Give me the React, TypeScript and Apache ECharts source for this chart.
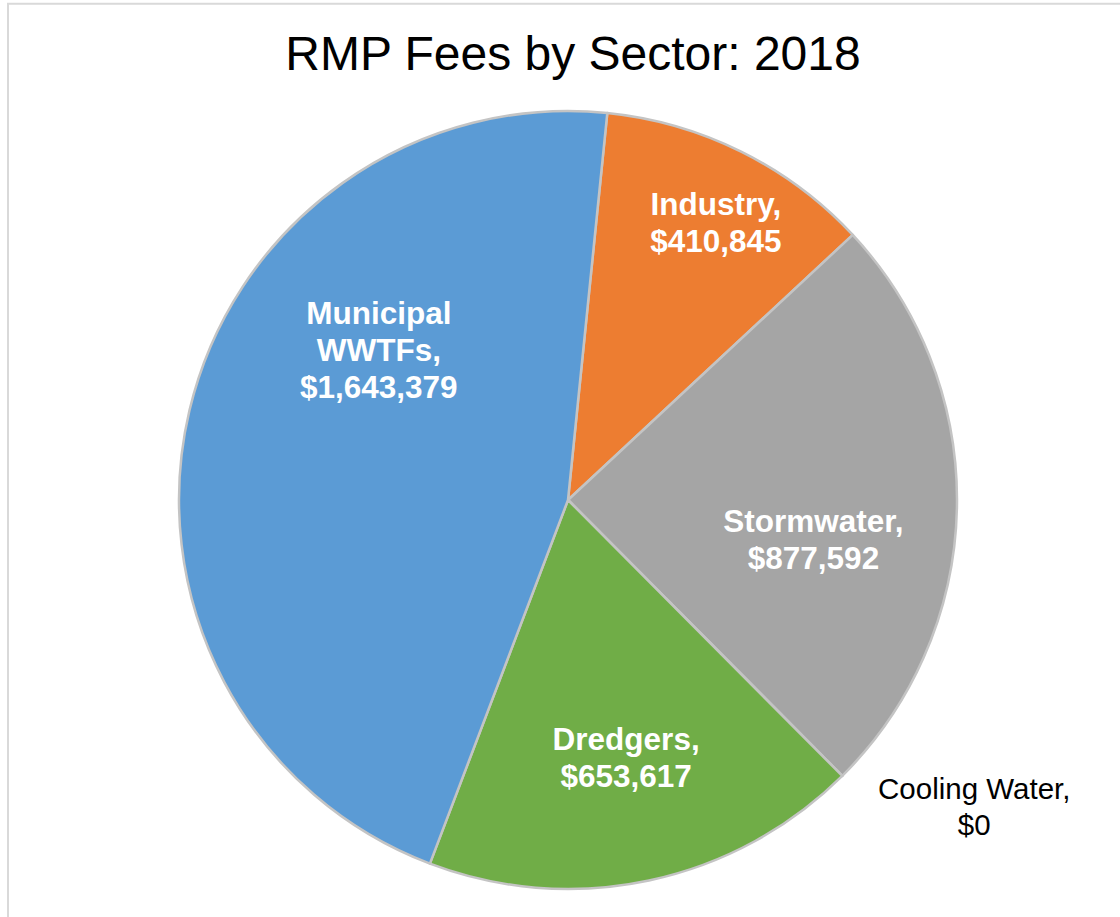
import React, { useEffect, useRef } from "react";
import * as echarts from "echarts";

const TITLE = "RMP Fees by Sector: 2018";
const categories = ["Industry", "Stormwater", "Cooling Water", "Dredgers", "Municipal WWTFs"];
const fees = [410845, 877592, 0, 653617, 1643379];
const colors = ["#ED7D31", "#A5A5A5", "#FFC000", "#70AD47", "#5B9BD5"];
// label nudges (px) relative to the default inside-label position
const labelShift = [
  [60, -101],
  [48, 36],
  [267, 166],
  [17, 64],
  [3, -105],
];

const FONT = "'Liberation Sans', Arial, Helvetica, sans-serif";

export default function App() {
  const ref = useRef<HTMLDivElement>(null);
  useEffect(() => {
    if (!ref.current) return;
    const chart = echarts.init(ref.current, undefined, { renderer: "svg" });
    const data = categories.map((name, i) => {
      const isZero = fees[i] === 0;
      return {
        name,
        value: fees[i],
        itemStyle: { color: colors[i] },
        label: isZero
          ? { color: "#000000", fontWeight: "normal", fontSize: 29.5, lineHeight: 36 }
          : {},
      };
    });
    chart.setOption({
      animation: false,
      backgroundColor: "#ffffff",
      title: {
        text: TITLE,
        left: 568,
        top: 24,
        textAlign: "center",
        textStyle: { fontFamily: FONT, fontSize: 48, fontWeight: "normal", color: "#000000" },
      },
      graphic: [
        {
          type: "rect",
          shape: { x: 8, y: 3.7, width: 1300, height: 1100 },
          style: { fill: "none", stroke: "#d9d9d9", lineWidth: 2 },
          silent: true,
        },
      ],
      series: [
        {
          type: "pie",
          center: [568, 500],
          radius: [0, 389],
          startAngle: 84.2,
          clockwise: true,
          avoidLabelOverlap: false,
          emphasis: { disabled: true },
          itemStyle: { borderColor: "#C4C4C4", borderWidth: 2.5 },
          label: {
            show: true,
            position: "inside",
            color: "#ffffff",
            fontFamily: FONT,
            fontWeight: "bold",
            fontSize: 31.5,
            lineHeight: 37,
            formatter: (p: any) =>
              p.name.replace(" WWTFs", "\nWWTFs") + ",\n$" + Number(p.value).toLocaleString("en-US"),
          },
          labelLine: { show: false },
          labelLayout: (p: any) => {
            const s = labelShift[p.dataIndex];
            return { dx: s[0], dy: s[1] };
          },
          data,
        },
      ],
    });
    return () => chart.dispose();
  }, []);
  return (
    <div
      ref={ref}
      style={{ position: "absolute", left: 0, top: 0, width: 1120, height: 917 }}
    />
  );
}
